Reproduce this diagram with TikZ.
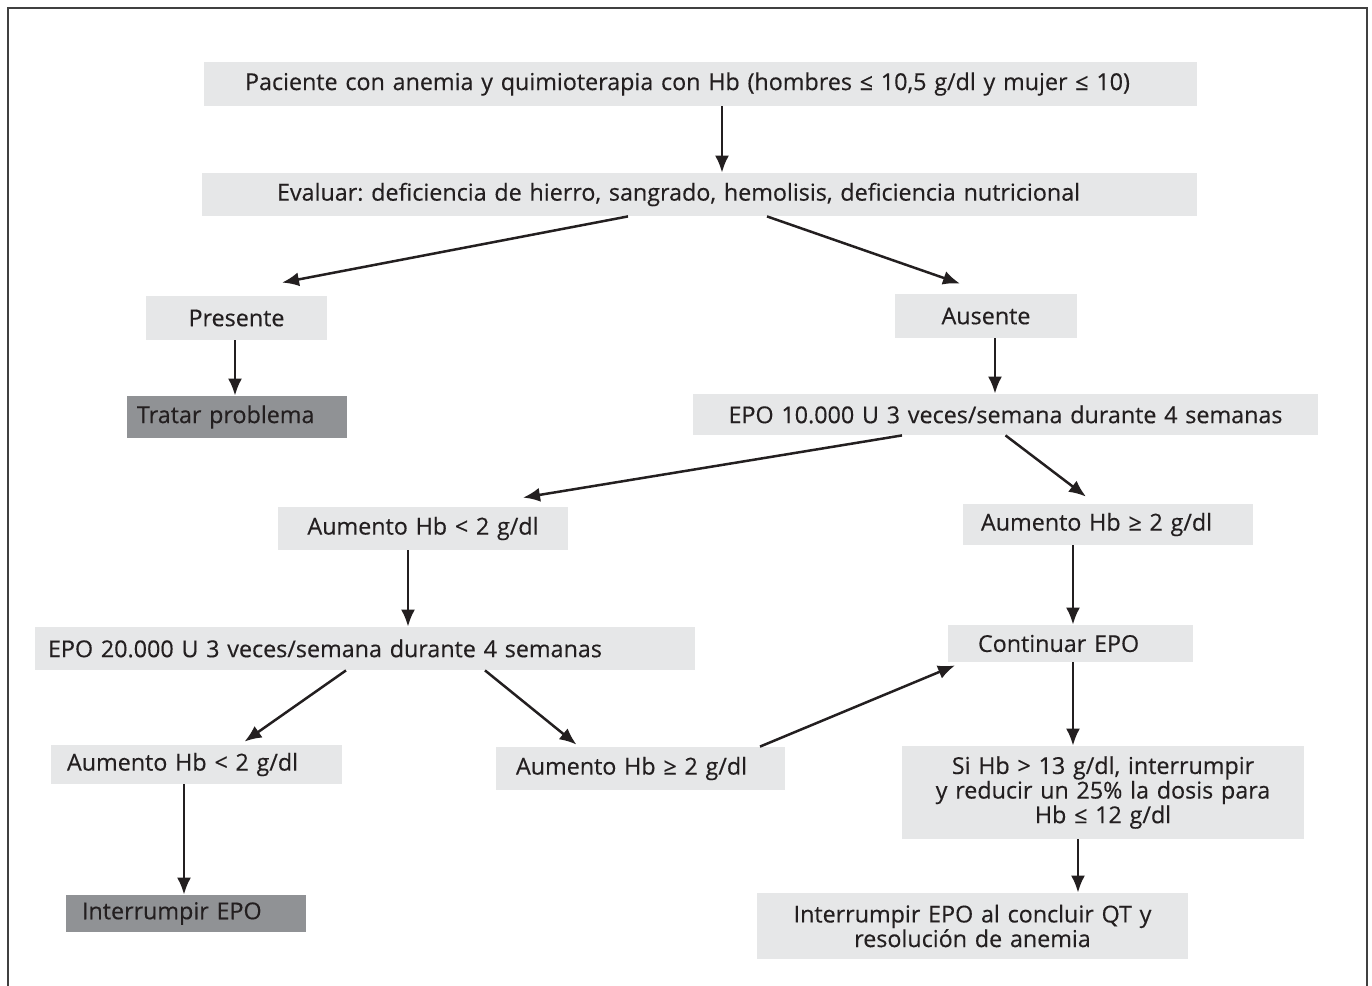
\documentclass[tikz,border=0pt]{standalone}
\usepackage{fontspec}
\setmainfont[FakeBold=0.35]{Open Sans}
\usetikzlibrary{arrows.meta}
\definecolor{lightbox}{HTML}{E6E7E8}
\definecolor{darkbox}{HTML}{909295}
\definecolor{ink}{HTML}{231F20}
\definecolor{framecol}{HTML}{404040}
\frenchspacing
\begin{document}
\begin{tikzpicture}[x=0.5pt,y=-0.5pt,
  font=\fontsize{11.65}{12.3}\selectfont,
  cbox/.style={fill=lightbox,text=ink,inner xsep=0pt,inner ysep=0pt,align=center},
  lbox/.style={fill=lightbox,text=ink,inner ysep=0pt,align=left},
  dbox/.style={fill=darkbox,text=ink,inner ysep=0pt,align=left},
  arr/.style={draw=ink,line width=1.25pt,-{Latex[length=8.5pt,width=7pt]}}]
\useasboundingbox (0,0) rectangle (1372,986);
% frame
\draw[framecol,line width=0.8pt] (8,986) -- (8,8) -- (1367,8) -- (1367,986);
% nodes
\node[lbox,inner xsep=20.5pt,text width=455.5pt,minimum height=22pt] (pac) at (700.5,84)
  {Paciente con anemia y quimioterapia con Hb (hombres ≤ 10,5 g/dl y mujer ≤ 10)};
\node[lbox,inner xsep=37.5pt,text width=422.5pt,minimum height=21.5pt] (eva) at (699.5,194.5)
  {Evaluar: deficiencia de hierro, sangrado, hemolisis, deficiencia nutricional};
\node[cbox,text width=90.5pt,minimum height=22pt] (pres) at (236.5,318) {Presente};
\node[cbox,text width=91pt,minimum height=22pt] (aus) at (986,316) {Ausente};
\node[dbox,inner xsep=5pt,text width=100pt,minimum height=21pt] (trat) at (237,417) {Tratar problema};
\node[cbox,text width=312.5pt,minimum height=20.5pt] (epo1) at (1005.5,414.5)
  {EPO 10.000 U 3 veces/semana durante 4 semanas};
\node[cbox,text width=145pt,minimum height=21.5pt] (aumL) at (423,528.5) {Aumento Hb < 2 g/dl};
\node[lbox,inner xsep=9pt,text width=127pt,minimum height=20.5pt] (aumR) at (1108,524.5) {Aumento Hb ≥ 2 g/dl};
\node[lbox,inner xsep=6.5pt,text width=317pt,minimum height=21.5pt] (epo2) at (365,648.5)
  {EPO 20.000 U 3 veces/semana durante 4 semanas};
\node[lbox,inner xsep=15pt,text width=92.5pt,minimum height=18.5pt] (cont) at (1070.5,643.5) {Continuar EPO};
\node[lbox,inner xsep=8pt,text width=129.5pt,minimum height=19.5pt] (aumLL) at (196.5,764.5) {Aumento Hb < 2 g/dl};
\node[lbox,inner xsep=10pt,text width=124.5pt,minimum height=21.5pt] (aumM) at (640.5,768.5) {Aumento Hb ≥ 2 g/dl};
\node[cbox,text width=201pt,minimum height=46.5pt] (si) at (1103,792.5)
  {Si Hb > 13 g/dl, interrumpir\\y reducir un 25\% la dosis para\\Hb ≤ 12 g/dl};
\node[dbox,inner xsep=8pt,text width=104pt,minimum height=18.5pt] (intE) at (186,913.5) {Interrumpir EPO};
\node[cbox,text width=215.5pt,minimum height=33pt] (intQT) at (972.5,926)
  {Interrumpir EPO al concluir QT y\\resolución de anemia};
% connectors
\draw[arr] ([xshift=10.75pt]pac.south) -- ([xshift=11.25pt]eva.north);
\draw[arr] ([xshift=-35.75pt]eva.south) -- ([xshift=22.75pt,yshift=6.5pt]pres.north);
\draw[arr] ([xshift=33.75pt]eva.south) -- ([xshift=-13pt,yshift=5pt]aus.north);
\draw[arr] ([xshift=-0.75pt]pres.south) -- ([xshift=-1pt]trat.north);
\draw[arr] ([xshift=4.5pt]aus.south) -- ([xshift=-5.25pt]epo1.north);
\draw[arr] ([xshift=-51.75pt]epo1.south) -- ([xshift=50pt,yshift=4.5pt]aumL.north);
\draw[arr] ([xshift=0pt]epo1.south) -- ([xshift=-11pt,yshift=3.5pt]aumR.north);
\draw[arr] ([xshift=-7.5pt]aumL.south) -- ([xshift=21.5pt]epo2.north);
\draw[arr] ([xshift=-17.5pt]aumR.south) -- ([xshift=1.25pt]cont.north);
\draw[arr] ([xshift=-9.5pt]epo2.south) -- ([xshift=24pt,yshift=1.5pt]aumLL.north);
\draw[arr] ([xshift=60pt]epo2.south) -- ([xshift=-32pt,yshift=1pt]aumM.north);
\draw[arr] ([xshift=59.75pt]aumM.north) -- ([xshift=-57.75pt,yshift=-1.5pt]cont.south);
\draw[arr] ([xshift=1.25pt]cont.south) -- ([xshift=-15pt]si.north);
\draw[arr] ([xshift=-12.5pt]si.south) -- ([xshift=52.75pt]intQT.north);
\draw[arr] ([xshift=-6.25pt]aumLL.south) -- ([xshift=-1pt]intE.north);
\end{tikzpicture}
\end{document}
